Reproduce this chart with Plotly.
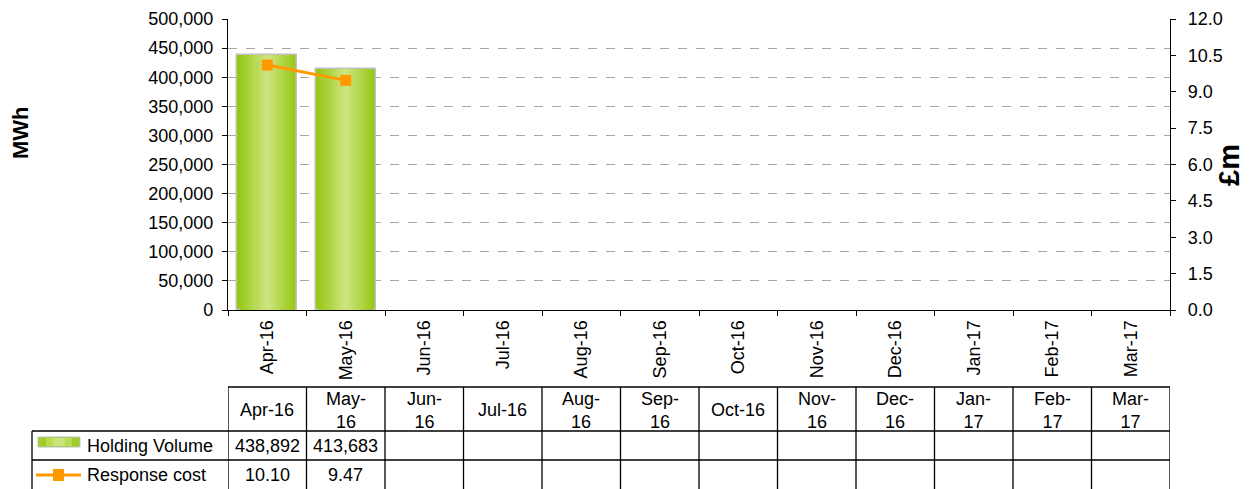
import plotly.graph_objects as go

months = ["Apr-16", "May-16", "Jun-16", "Jul-16", "Aug-16", "Sep-16",
          "Oct-16", "Nov-16", "Dec-16", "Jan-17", "Feb-17", "Mar-17"]
header_labels = ["Apr-16", "May-<br>16", "Jun-<br>16", "Jul-16", "Aug-<br>16", "Sep-<br>16",
                 "Oct-16", "Nov-<br>16", "Dec-<br>16", "Jan-<br>17", "Feb-<br>17", "Mar-<br>17"]
holding_volume = [438892, 413683, None, None, None, None, None, None, None, None, None, None]
response_cost = [10.10, 9.47, None, None, None, None, None, None, None, None, None, None]
series_names = ["Holding Volume", "Response cost"]

W, H = 1254, 489
OFF = 8  # page body margin
L, R, T, B = 228, 1170, 19, 310
FONT = "Arial, Liberation Sans, sans-serif"
FS = 18

def px(x):
    return (x - L) / (R - L)

def py(y):
    return (B - y) / (B - T)

fig = go.Figure()

# gradient bars: overlaid layers, outer dark -> inner light
edge = (150, 200, 20)
center = (205, 228, 125)
n = 14
for i in range(n):
    t = i / (n - 1)
    c = tuple(int(edge[k] + (center[k] - edge[k]) * t) for k in range(3))
    w = 0.76 * (1 - i / n)
    fig.add_trace(go.Bar(
        x=months, y=holding_volume, width=w, yaxis="y",
        marker=dict(color="rgb(%d,%d,%d)" % c,
                    line=dict(color="#C0C0C0" if i == 0 else "rgba(0,0,0,0)", width=1.5 if i == 0 else 0)),
        name=series_names[0], showlegend=False, hoverinfo="skip" if i else None,
    ))

fig.add_trace(go.Scatter(
    x=months, y=response_cost, yaxis="y2", mode="lines+markers",
    line=dict(color="#FF9900", width=3),
    marker=dict(symbol="square", size=11, color="#FF9900"),
    name=series_names[1], showlegend=False,
))

shapes = []
line_k = dict(color="black", width=1.3)
ytop, yh, yr2, ybot = py(387), py(431), py(460), py(495)
shapes.append(dict(type="line", xref="paper", yref="paper", x0=0, x1=1, y0=ytop, y1=ytop, line=line_k))
shapes.append(dict(type="line", xref="paper", yref="paper", x0=px(32), x1=1, y0=yh, y1=yh, line=line_k))
shapes.append(dict(type="line", xref="paper", yref="paper", x0=px(32), x1=1, y0=yr2, y1=yr2, line=line_k))
shapes.append(dict(type="line", xref="paper", yref="paper", x0=px(32), x1=px(32), y0=yh, y1=ybot, line=line_k))
for i in range(len(months) + 1):
    shapes.append(dict(type="line", xref="x", yref="paper", x0=i - 0.5, x1=i - 0.5,
                       y0=ytop, y1=ybot, line=line_k))

# legend keys inside the table
shapes.append(dict(type="rect", xref="paper", yref="paper", x0=px(38), x1=px(80), y0=py(447), y1=py(437),
                   fillcolor="rgb(160,205,40)", line=dict(color="#C0C0C0", width=1)))
shapes.append(dict(type="rect", xref="paper", yref="paper", x0=px(46), x1=px(72), y0=py(446), y1=py(438),
                   fillcolor="rgb(185,218,85)", line=dict(width=0)))
shapes.append(dict(type="rect", xref="paper", yref="paper", x0=px(53), x1=px(65), y0=py(446), y1=py(438),
                   fillcolor="rgb(205,228,125)", line=dict(width=0)))
shapes.append(dict(type="line", xref="paper", yref="paper", x0=px(36), x1=px(81), y0=py(475), y1=py(475),
                   line=dict(color="#FF9900", width=3)))
shapes.append(dict(type="rect", xref="paper", yref="paper", x0=px(53), x1=px(64), y0=py(481), y1=py(469),
                   fillcolor="#FF9900", line=dict(width=0)))

ann = []
tf = dict(family=FONT, size=FS, color="black")
for i, m in enumerate(months):
    ann.append(dict(x=m, xref="x", y=py(410), yref="paper", text=header_labels[i], showarrow=False,
                    font=tf, xanchor="center", yanchor="middle"))
    if holding_volume[i] is not None:
        ann.append(dict(x=m, xref="x", y=py(446), yref="paper", text=f"{holding_volume[i]:,}",
                        showarrow=False, font=tf, xanchor="center", yanchor="middle"))
    if response_cost[i] is not None:
        ann.append(dict(x=m, xref="x", y=py(475), yref="paper", text=f"{response_cost[i]:.2f}",
                        showarrow=False, font=tf, xanchor="center", yanchor="middle"))
ann.append(dict(x=px(85), xref="paper", y=py(446), yref="paper", text=series_names[0], showarrow=False,
                font=tf, xanchor="left", yanchor="middle"))
ann.append(dict(x=px(85), xref="paper", y=py(475), yref="paper", text=series_names[1], showarrow=False,
                font=tf, xanchor="left", yanchor="middle"))
ann.append(dict(x=px(20), xref="paper", y=py(133), yref="paper", text="<b>MWh</b>", showarrow=False,
                font=dict(family=FONT, size=22, color="black"), textangle=-90, xanchor="center", yanchor="middle"))
ann.append(dict(x=px(1229), xref="paper", y=py(165), yref="paper", text="<b>£m</b>", showarrow=False,
                font=dict(family=FONT, size=29, color="black"), textangle=-90, xanchor="center", yanchor="middle"))

fig.update_layout(
    width=W - OFF, height=H - OFF,
    margin=dict(l=L - OFF, r=W - R, t=T - OFF, b=H - B, pad=0, autoexpand=False),
    paper_bgcolor="white", plot_bgcolor="white",
    barmode="overlay", bargap=0,
    font=dict(family=FONT, size=FS, color="black"),
    xaxis=dict(type="category", categoryorder="array", categoryarray=months, range=[-0.5, 11.5],
               tickangle=-90, tickson="boundaries", ticks="outside", ticklen=5, tickcolor="black",
               showline=True, linecolor="black", linewidth=1.3, showgrid=False, zeroline=False,
               tickfont=dict(family=FONT, size=FS), ticklabelstandoff=2, automargin=False),
    yaxis=dict(range=[0, 500000], dtick=50000, tickformat=",", ticks="outside", ticklen=5,
               tickcolor="black", showline=True, linecolor="black", linewidth=1.3,
               showgrid=True, gridcolor="#A6A6A6", griddash="dash", gridwidth=1, zeroline=False,
               tickfont=dict(family=FONT, size=FS), ticklabelstandoff=5, automargin=False),
    yaxis2=dict(range=[0, 12], dtick=1.5, tickformat=".1f", overlaying="y", side="right",
                ticks="outside", ticklen=5, tickcolor="black", showline=True, linecolor="black",
                linewidth=1.3, showgrid=False, zeroline=False, tickfont=dict(family=FONT, size=FS),
                ticklabelstandoff=8, automargin=False),
    shapes=shapes, annotations=ann, showlegend=False,
)

fig.write_html("out.html")
